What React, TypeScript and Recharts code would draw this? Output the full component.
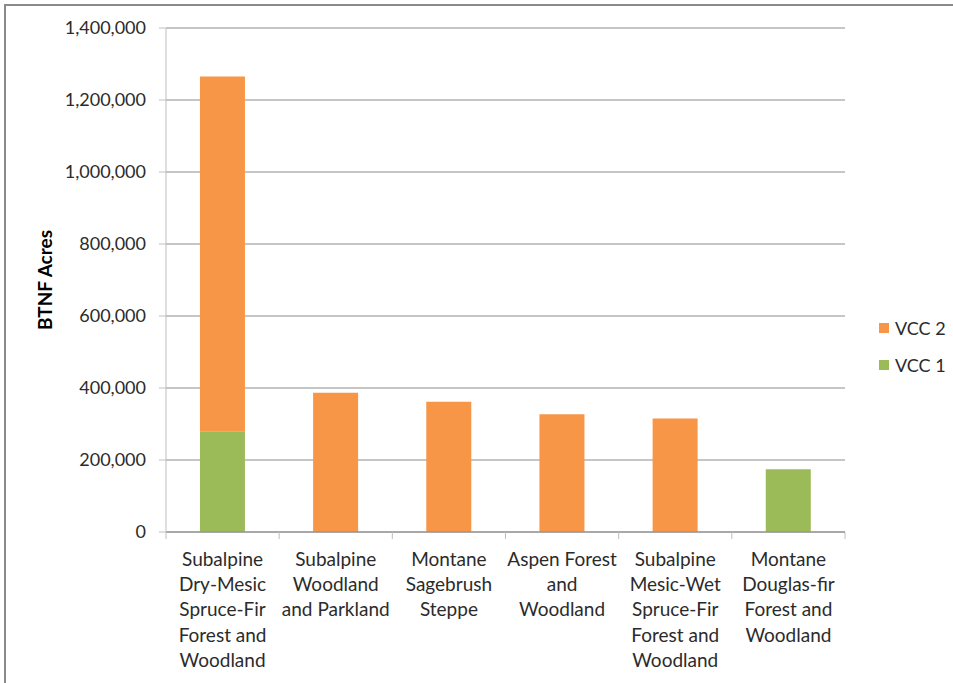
import { BarChart, Bar, XAxis, YAxis, CartesianGrid } from 'recharts';

// Acres by vegetation condition class, per biophysical setting
const categoryLines = [
  ['Subalpine', 'Dry-Mesic', 'Spruce-Fir', 'Forest and', 'Woodland'],
  ['Subalpine', 'Woodland', 'and Parkland'],
  ['Montane', 'Sagebrush', 'Steppe'],
  ['Aspen Forest', 'and', 'Woodland'],
  ['Subalpine', 'Mesic-Wet', 'Spruce-Fir', 'Forest and', 'Woodland'],
  ['Montane', 'Douglas-fir', 'Forest and', 'Woodland'],
];
const categories = categoryLines.map((l) => l.join(' '));
const vcc1 = [280000, 0, 0, 0, 0, 174000];
const vcc2 = [985000, 387000, 362000, 327000, 315000, 0];
const yTicks = [0, 200000, 400000, 600000, 800000, 1000000, 1200000, 1400000];

const data = categories.map((name, i) => ({ name, vcc1: vcc1[i], vcc2: vcc2[i] }));

const series = [
  { key: 'vcc1', name: 'VCC 1', color: '#9bbb59' },
  { key: 'vcc2', name: 'VCC 2', color: '#f79646' },
];

const W = 953;
const H = 683;
const MARGIN = { top: 28, right: 108, bottom: 11, left: 0 };
const Y_AXIS_W = 166;
const X_AXIS_H = 140;
const HALF_BAND = (W - MARGIN.left - MARGIN.right - Y_AXIS_W) / categories.length / 2;

const FONT = 'Lato, "Liberation Sans", sans-serif';
const TEXT = '#2b2b2b';
const AXIS = '#bfbfbf';
const GRID = '#8c8c8c';

const fmt = (v: number) => v.toLocaleString('en-US');

const CategoryTick = ({ x, y, index }: any) => {
  const lines = categoryLines[index] || [];
  const last = index === categories.length - 1;
  return (
    <g>
      <line x1={x - HALF_BAND} x2={x - HALF_BAND} y1={y} y2={y + 7} stroke={AXIS} />
      {last && <line x1={x + HALF_BAND} x2={x + HALF_BAND} y1={y} y2={y + 7} stroke={AXIS} />}
      <text textAnchor="middle" fontSize={19} fontFamily={FONT} fill={TEXT}>
        {lines.map((t, i) => (
          <tspan key={i} x={x} y={y + 26 + i * 25.4} dominantBaseline="central">
            {t}
          </tspan>
        ))}
      </text>
    </g>
  );
};

const AxisTitle = ({ viewBox }: any) => {
  const cx = viewBox.x + 44;
  const cy = viewBox.y + viewBox.height / 2;
  return (
    <text
      x={cx}
      y={cy}
      transform={`rotate(-90 ${cx} ${cy})`}
      textAnchor="middle"
      dominantBaseline="central"
      fontSize={19}
      fontWeight="bold"
      fontFamily={FONT}
      fill="#000"
    >
      BTNF Acres
    </text>
  );
};

// legend lists the top segment first
const LegendBox = () => (
  <div style={{ position: 'absolute', left: 879, top: 309, fontFamily: FONT, fontSize: 18, color: TEXT }}>
    {[...series].reverse().map((s) => (
      <div key={s.key} style={{ display: 'flex', alignItems: 'center', height: 37 }}>
        <span style={{ width: 10, height: 10, background: s.color, marginRight: 6 }} />
        <span>{s.name}</span>
      </div>
    ))}
  </div>
);

export default function App() {
  return (
    <div style={{ position: 'absolute', left: 0, top: 0, width: W, height: H, overflow: 'hidden', background: '#fff' }}>
      <div
        style={{
          position: 'absolute',
          left: 4,
          top: 4,
          width: W + 20,
          height: H + 20,
          border: '2px solid #8a8a8a',
          boxSizing: 'border-box',
        }}
      />
      <BarChart width={W} height={H} data={data} margin={MARGIN} barCategoryGap="30%">
        <CartesianGrid vertical={false} stroke={GRID} />
        <XAxis
          dataKey="name"
          height={X_AXIS_H}
          interval={0}
          tick={<CategoryTick />}
          tickLine={false}
          tickSize={0}
          tickMargin={0}
          axisLine={{ stroke: GRID }}
        />
        <YAxis
          width={Y_AXIS_W}
          domain={[0, 1400000]}
          ticks={yTicks}
          tickFormatter={fmt}
          tick={{ fontSize: 18, fill: TEXT, fontFamily: FONT }}
          tickSize={7}
          tickMargin={13}
          tickLine={{ stroke: AXIS }}
          axisLine={{ stroke: AXIS }}
          label={<AxisTitle />}
        />
        {series.map((s) => (
          <Bar key={s.key} dataKey={s.key} name={s.name} stackId="a" fill={s.color} isAnimationActive={false} />
        ))}
      </BarChart>
      <LegendBox />
    </div>
  );
}
